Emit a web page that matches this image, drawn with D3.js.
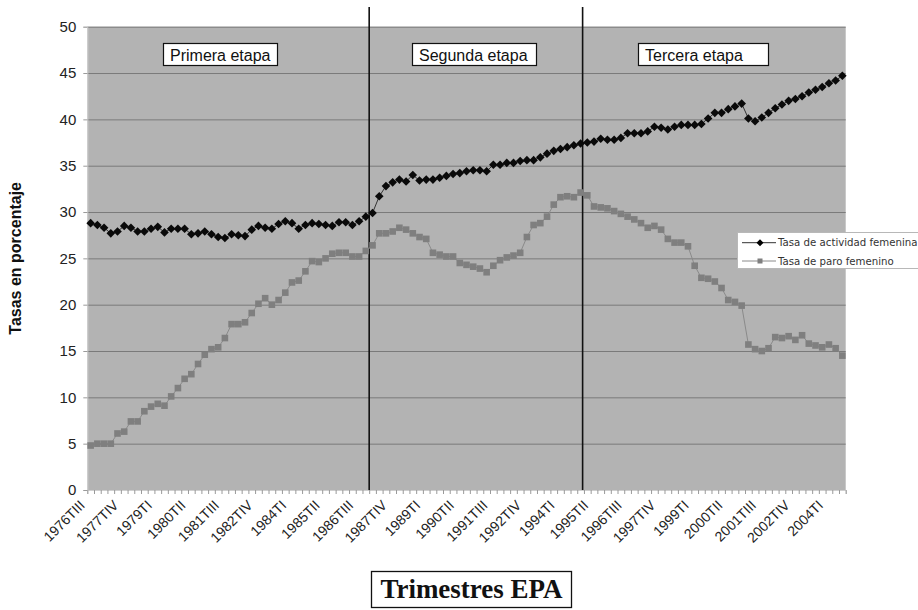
<!DOCTYPE html>
<html><head><meta charset="utf-8">
<script src="https://cdn.jsdelivr.net/npm/d3@7/dist/d3.min.js"></script>
<style>html,body{margin:0;padding:0;background:#fff;} svg{display:block;}</style>
</head><body>
<svg id="chart" width="918" height="610"></svg>
<script>
// ---- data ----
const startYear = 1976, startQuarter = 3, nQuarters = 113;
const romans = ["I", "II", "III", "IV"];
const categories = d3.range(nQuarters).map(i => {
  const k = startQuarter - 1 + i;
  return (startYear + Math.floor(k / 4)) + "T" + romans[k % 4];
});
const tickLabels = categories.filter((c, i) => i % 5 === 0);

const seriesNames = ["Tasa de actividad femenina", "Tasa de paro femenino"];
const activity = [
  28.8, 28.6, 28.3, 27.7, 27.9, 28.5, 28.3, 27.9, 27.9, 28.2,
  28.4, 27.8, 28.2, 28.2, 28.2, 27.6, 27.7, 27.9, 27.6, 27.3,
  27.2, 27.6, 27.5, 27.4, 28.1, 28.5, 28.3, 28.2, 28.7, 29.0,
  28.8, 28.2, 28.6, 28.8, 28.7, 28.6, 28.5, 28.9, 28.9, 28.6,
  29.0, 29.5, 29.9, 31.7, 32.8, 33.2, 33.5, 33.3, 34.0, 33.4,
  33.5, 33.5, 33.7, 33.9, 34.1, 34.2, 34.4, 34.5, 34.5, 34.4,
  35.1, 35.1, 35.3, 35.3, 35.5, 35.6, 35.6, 35.9, 36.3, 36.6,
  36.8, 37.0, 37.2, 37.4, 37.5, 37.6, 37.9, 37.8, 37.8, 38.0,
  38.5, 38.5, 38.5, 38.7, 39.2, 39.1, 38.9, 39.2, 39.4, 39.4,
  39.4, 39.5, 40.1, 40.7, 40.7, 41.1, 41.4, 41.7, 40.1, 39.8,
  40.2, 40.7, 41.2, 41.6, 42.0, 42.2, 42.5, 42.9, 43.2, 43.5,
  43.9, 44.2, 44.7
];
const unemployment = [
  4.8, 5.0, 5.0, 5.0, 6.1, 6.3, 7.4, 7.4, 8.5, 9.0,
  9.3, 9.1, 10.1, 11.0, 12.0, 12.5, 13.6, 14.6, 15.2, 15.4,
  16.4, 17.9, 17.9, 18.1, 19.1, 20.1, 20.7, 20.0, 20.5, 21.3,
  22.4, 22.6, 23.6, 24.7, 24.6, 25.0, 25.5, 25.6, 25.6, 25.2,
  25.2, 25.8, 26.4, 27.7, 27.7, 27.9, 28.3, 28.1, 27.7, 27.3,
  27.1, 25.6, 25.4, 25.2, 25.2, 24.5, 24.3, 24.1, 23.9, 23.5,
  24.2, 24.8, 25.1, 25.3, 25.6, 27.3, 28.6, 28.8, 29.5, 30.8,
  31.6, 31.7, 31.6, 32.1, 31.8, 30.6, 30.5, 30.4, 30.1, 29.8,
  29.5, 29.2, 28.8, 28.3, 28.5, 28.1, 27.1, 26.7, 26.7, 26.3,
  24.2, 22.9, 22.8, 22.5, 21.8, 20.5, 20.3, 19.9, 15.7, 15.2,
  15.0, 15.3, 16.5, 16.4, 16.6, 16.2, 16.7, 15.8, 15.6, 15.4,
  15.7, 15.3, 14.5
];
const yTicks = [0, 5, 10, 15, 20, 25, 30, 35, 40, 45, 50];
const stageNames = ["Primera etapa", "Segunda etapa", "Tercera etapa"];
const stageBreaks = [41.5, 73.3]; // in quarter-index units
const yTitle = "Tasas en porcentaje";
const xTitle = "Trimestres EPA";

// ---- layout ----
const plot = {left: 87.3, right: 845.7, top: 26.7, bottom: 490};
const stageBoxes = [{x: 163, w: 114}, {x: 412, w: 124}, {x: 638, w: 130}];
const sans = "'Liberation Sans', Arial, sans-serif";

const svg = d3.select("#chart");
const x = d3.scalePoint().domain(categories).range([plot.left, plot.right]).padding(0.5);
const y = d3.scaleLinear().domain([0, 50]).range([plot.bottom, plot.top]);
const xb = d3.scaleLinear().domain([0, nQuarters]).range([plot.left, plot.right]);

// background
svg.append("rect").attr("x", plot.left).attr("y", plot.top)
  .attr("width", plot.right - plot.left).attr("height", plot.bottom - plot.top)
  .attr("fill", "#b3b3b3");

// gridlines
svg.append("g").selectAll("line").data(yTicks.filter(v => v > 0)).join("line")
  .attr("x1", plot.left).attr("x2", plot.right)
  .attr("y1", d => y(d) + 0.5).attr("y2", d => y(d) + 0.5)
  .attr("stroke", "#7a7a7a").attr("stroke-width", 1);

// y axis
const gy = svg.append("g").attr("transform", `translate(${plot.left},0)`)
  .call(d3.axisLeft(y).tickValues(yTicks).tickSize(4).tickPadding(7).tickFormat(d3.format("d")));
gy.select(".domain").attr("stroke", "#cfcfcf");
gy.selectAll(".tick line").attr("stroke", "#9a9a9a");
gy.selectAll("text").attr("font-family", sans).attr("font-size", 15).attr("fill", "#222");

// x axis minor ticks
const gx = svg.append("g").attr("transform", `translate(0,${plot.bottom})`)
  .call(d3.axisBottom(xb).tickValues(d3.range(nQuarters + 1)).tickSize(4).tickFormat(""));
gx.select(".domain").attr("stroke", "#cfcfcf");
gx.selectAll(".tick line").attr("stroke", "#9a9a9a");

// x labels
svg.append("g").selectAll("text").data(tickLabels).join("text")
  .attr("transform", d => `translate(${x(d) - 12},${plot.bottom + 9}) rotate(-45)`)
  .attr("text-anchor", "end").attr("dy", "0.72em")
  .attr("font-family", sans).attr("font-size", 14).attr("fill", "#222")
  .text(d => d);

// stage lines
const step = x.step();
svg.append("g").selectAll("line").data(stageBreaks).join("line")
  .attr("x1", d => x(categories[0]) + d * step).attr("x2", d => x(categories[0]) + d * step)
  .attr("y1", 7).attr("y2", plot.bottom)
  .attr("stroke", "#111").attr("stroke-width", 1.6);

// stage labels
const sg = svg.append("g").selectAll("g").data(stageNames).join("g");
sg.append("rect")
  .attr("x", (d, i) => stageBoxes[i].x + 0.5).attr("y", 43.5)
  .attr("width", (d, i) => stageBoxes[i].w).attr("height", 22)
  .attr("fill", "#fff").attr("stroke", "#111").attr("stroke-width", 1.2);
sg.append("text")
  .attr("x", (d, i) => stageBoxes[i].x + 7).attr("y", 60.5)
  .attr("font-family", sans).attr("font-size", 16).attr("fill", "#111")
  .text(d => d);

// lines
const line = d3.line().x((d, i) => x(categories[i])).y(d => y(d));
svg.append("path").datum(unemployment).attr("d", line)
  .attr("fill", "none").attr("stroke", "#8a8a8a").attr("stroke-width", 1);
svg.append("path").datum(activity).attr("d", line)
  .attr("fill", "none").attr("stroke", "#333").attr("stroke-width", 1);

// markers
const sq = 6.6;
svg.append("g").selectAll("rect").data(unemployment).join("rect")
  .attr("x", (d, i) => x(categories[i]) - sq / 2).attr("y", d => y(d) - sq / 2)
  .attr("width", sq).attr("height", sq).attr("fill", "#7f7f7f");
const diamond = r => `M0,${-r}L${r},0L0,${r}L${-r},0Z`;
svg.append("g").selectAll("path").data(activity).join("path")
  .attr("transform", (d, i) => `translate(${x(categories[i])},${y(d)})`)
  .attr("d", diamond(4.3)).attr("fill", "#0a0a0a");

// legend
const lg = svg.append("g");
lg.append("rect").attr("x", 737.5).attr("y", 232.5).attr("width", 200).attr("height", 36)
  .attr("fill", "#fff").attr("stroke", "#b8b8b8").attr("stroke-width", 1);
const legY = [242.7, 261];
lg.selectAll("line").data(seriesNames).join("line")
  .attr("x1", 742).attr("x2", 776).attr("y1", (d, i) => legY[i]).attr("y2", (d, i) => legY[i])
  .attr("stroke", (d, i) => i ? "#8a8a8a" : "#333").attr("stroke-width", 1);
lg.append("path").attr("transform", `translate(760,${legY[0]})`).attr("d", diamond(3.5)).attr("fill", "#000");
lg.append("rect").attr("x", 757.5).attr("y", legY[1] - 2.5).attr("width", 5).attr("height", 5).attr("fill", "#7f7f7f");
lg.selectAll("text").data(seriesNames).join("text")
  .attr("x", 778).attr("y", (d, i) => legY[i]).attr("dy", "0.35em")
  .attr("font-family", "'DejaVu Sans', Verdana, sans-serif").attr("font-size", 10.2).attr("fill", "#333")
  .text(d => d);

// y title
svg.append("text")
  .attr("transform", `translate(21,${(plot.top + plot.bottom) / 2}) rotate(-90)`)
  .attr("text-anchor", "middle")
  .attr("font-family", sans).attr("font-size", 16).attr("font-weight", "bold").attr("fill", "#111")
  .text(yTitle);

// x title
svg.append("rect").attr("x", 371.5).attr("y", 571.5).attr("width", 200).attr("height", 36)
  .attr("fill", "#fff").attr("stroke", "#111").attr("stroke-width", 1.3);
svg.append("text").attr("x", 471.5).attr("y", 598)
  .attr("text-anchor", "middle")
  .attr("font-family", "'Liberation Serif', 'Times New Roman', serif").attr("font-size", 27).attr("font-weight", "bold").attr("fill", "#111")
  .text(xTitle);
</script>
</body></html>
